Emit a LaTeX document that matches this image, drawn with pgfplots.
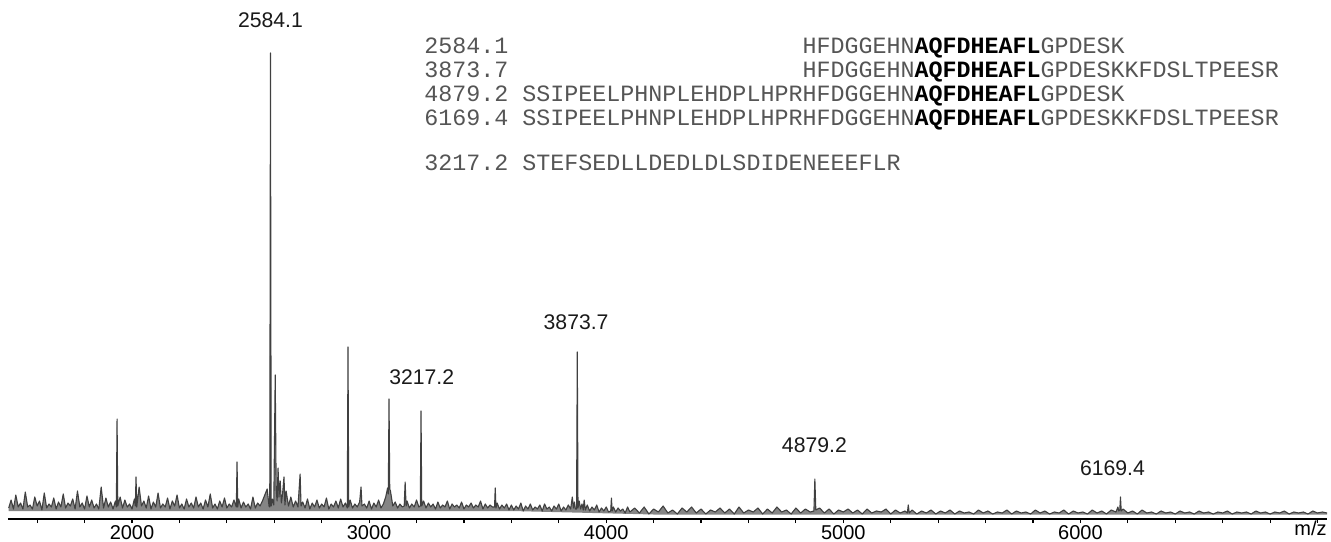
\documentclass[border=0pt]{standalone}
\usepackage{pgfplots}
\pgfplotsset{compat=1.18}
\usepgfplotslibrary{fillbetween}
\usepackage{pgfplotstable}
\usepackage{fontspec}
\setmainfont{Liberation Sans}
\newfontfamily\seqfont{Liberation Mono}
\definecolor{spec}{HTML}{404040}
\definecolor{band}{HTML}{858585}
\definecolor{seqgray}{HTML}{555555}
\definecolor{lbl}{HTML}{1A1A1A}

\pgfplotstableread{
x y
1480 11
1490 19
1500 10
1510 24
1520 12
1530 16
1540 10
1550 27
1560 12
1570 14
1580 10
1590 22
1600 13
1610 18
1620 9
1630 26
1640 11
1650 15
1660 12
1670 21
1680 10
1690 17
1700 12
1710 25
1720 11
1730 16
1740 13
1750 20
1760 10
1770 28
1780 12
1790 16
1800 10
1810 23
1820 12
1830 19
1840 11
1850 15
1860 10
1870 32
1880 11
1890 21
1900 12
1910 17
1920 10
1930 18
1934 12
1937 100
1940 13
1950 22
1960 11
1970 19
1980 12
1990 15
2000 10
2010 20
2014 13
2017 42
2020 12
2030 32
2040 13
2050 18
2060 11
2070 23
2080 10
2090 17
2100 12
2110 26
2120 11
2130 15
2140 12
2150 21
2160 10
2170 18
2180 13
2190 24
2200 11
2210 15
2220 10
2230 20
2240 12
2250 16
2260 11
2270 22
2280 12
2290 16
2300 10
2310 19
2320 12
2330 25
2340 11
2350 15
2360 10
2370 18
2380 12
2390 21
2400 11
2410 15
2420 12
2430 19
2440 12
2443 57
2446 12
2450 20
2460 11
2470 17
2480 12
2490 15
2500 10
2510 22
2520 11
2530 16
2540 13
2550 18
2560 24
2570 30
2578 13
2581 12
2584 466
2587 13
2592 20
2598 14
2604 144
2608 30
2612 18
2616 51
2620 22
2625 38
2630 16
2635 25
2641 42
2645 14
2650 28
2660 13
2670 22
2680 12
2690 18
2700 12
2709 45
2713 13
2720 17
2730 11
2740 20
2750 10
2760 16
2770 12
2780 19
2790 11
2800 15
2810 12
2820 21
2830 10
2840 15
2850 12
2860 18
2870 11
2880 20
2890 12
2900 16
2908 11
2911 172
2914 12
2920 19
2930 11
2940 15
2950 12
2960 17
2966 32
2970 13
2980 15
2990 11
3000 18
3010 10
3020 16
3030 12
3040 19
3050 11
3060 15
3070 22
3078 31
3081 25
3084 120
3087 30
3090 28
3100 13
3110 17
3120 11
3130 15
3140 12
3148 13
3152 37
3156 13
3160 18
3170 11
3180 15
3190 12
3200 19
3210 12
3216 13
3219 108
3222 13
3230 18
3240 11
3250 16
3260 12
3270 15
3280 10
3290 17
3300 11
3310 14
3320 12
3330 18
3340 10
3350 15
3360 12
3370 14
3380 11
3390 17
3400 10
3410 14
3420 12
3430 16
3440 11
3450 14
3460 12
3470 18
3480 10
3490 15
3500 11
3510 14
3520 12
3529 12
3532 31
3535 11
3540 16
3550 10
3560 14
3570 11
3580 15
3590 9
3600 14
3610 9
3620 13
3630 10
3640 16
3650 8
3660 13
3670 10
3680 15
3690 9
3700 12
3710 10
3720 14
3730 8
3740 15
3750 10
3760 12
3770 8
3780 13
3790 10
3800 15
3810 8
3820 12
3830 9
3840 14
3850 10
3857 22
3862 11
3866 17
3870 10
3875 10
3878 167
3881 11
3886 18
3892 10
3898 15
3903 9
3907 19
3912 9
3920 14
3930 8
3940 12
3950 9
3960 14
3970 7
3980 11
3990 8
4000 12
4010 7
4019 8
4022 21
4025 8
4030 12
4040 7
4050 11
4060 8
4070 10
4080 6
4090 12
4100 7
4120 11
4140 6
4160 12
4180 5
4200 10
4220 7
4240 13
4260 6
4280 9
4300 5
4320 11
4340 7
4360 12
4380 6
4400 10
4420 5
4440 9
4460 7
4480 11
4500 6
4520 10
4540 5
4560 12
4580 6
4600 9
4620 7
4640 11
4660 5
4680 10
4700 6
4720 12
4740 7
4760 9
4780 5
4800 11
4820 6
4840 10
4860 7
4876 8
4880 40
4884 9
4900 11
4920 6
4940 10
4960 5
4980 9
5000 7
5020 10
5040 6
5060 9
5080 5
5100 10
5120 6
5140 8
5160 7
5180 10
5200 5
5220 9
5240 6
5260 8
5270 6
5274 14
5278 6
5290 9
5310 5
5330 8
5350 6
5370 9
5390 5
5410 8
5430 6
5450 9
5470 5
5490 8
5510 6
5530 7
5550 5
5570 9
5590 6
5610 8
5630 5
5650 7
5670 6
5690 9
5710 5
5730 8
5750 6
5770 7
5790 5
5810 9
5830 6
5850 8
5870 5
5890 7
5910 6
5930 9
5950 5
5970 8
5990 6
6010 7
6030 5
6050 9
6070 6
6090 8
6110 5
6130 9
6150 7
6158 12
6162 8
6166 9
6169 22
6172 8
6180 10
6200 6
6220 8
6240 5
6260 9
6280 6
6300 7
6320 5
6340 8
6360 6
6380 7
6400 5
6420 8
6440 6
6460 7
6480 5
6500 8
6520 6
6540 7
6560 5
6580 7
6600 6
6620 8
6640 5
6660 7
6680 6
6700 7
6720 5
6740 8
6760 6
6780 7
6800 5
6820 7
6840 6
6860 8
6880 5
6900 7
6920 6
6940 7
6960 5
6980 8
7000 6
7020 7
7040 6
}\spectrum

\begin{document}
\begin{tikzpicture}
\begin{axis}[
  scale only axis,
  width=659.5pt, height=233pt,
  xmin=1477, xmax=7040, ymin=0, ymax=466,
  axis x line*=bottom,
  axis y line=none,
  axis line style={line width=0.8pt, black},
  xtick={2000,3000,4000,5000,6000},
  minor xtick={1600,1800,2200,2400,2600,2800,3200,3400,3600,3800,4200,4400,4600,4800,5200,5400,5600,5800,6200,6400,6600,6800,7000},
  tick align=outside,
  major tick length=2pt, minor tick length=2pt,
  every tick/.style={black, line width=0.6pt},
  xticklabel style={font=\fontsize{10}{12}\selectfont, text=black, anchor=base, yshift=-8.3pt},
  /pgf/number format/1000 sep={},
  /pgf/number format/assume math mode=true,
  clip=false,
]
\addplot[name path=spec, draw=none] table[x=x, y=y] {\spectrum};
\addplot[name path=base, draw=none] coordinates {(1480,8) (3600,8) (4200,4.5) (7040,4.5)};
\addplot[band, draw=none] fill between[of=spec and base];
\addplot[color=spec, line width=0.55pt, line join=round, mark=none] table[x=x, y=y] {\spectrum};

\begin{scope}[every node/.style={font=\fontsize{10.6}{12}\selectfont, text=lbl, inner sep=0pt}]
\node at (axis cs:2584,499) {2584.1};
\node at (axis cs:3222,142) {3217.2};
\node at (axis cs:3873,197) {3873.7};
\node at (axis cs:4878,74) {4879.2};
\node at (axis cs:6135,51) {6169.4};
\end{scope}
\node[anchor=base east, inner sep=0pt, font=\fontsize{10}{12}\selectfont] at (rel axis cs:1,0) [yshift=-8.3pt] {m/z};
\end{axis}

\begin{scope}[every node/.style={anchor=base west, inner sep=0pt, text=seqgray, font=\seqfont\fontsize{11.67}{14}\selectfont}]
\node at (208pt,232.5pt) {2584.1\phantom{XXXXXXXXXXXXXXXXXXXXX}HFDGGEHN\textcolor{black}{\bfseries AQFDHEAFL}GPDESK};
\node at (208pt,220.5pt) {3873.7\phantom{XXXXXXXXXXXXXXXXXXXXX}HFDGGEHN\textcolor{black}{\bfseries AQFDHEAFL}GPDESKKFDSLTPEESR};
\node at (208pt,208.5pt) {4879.2\phantom{X}SSIPEELPHNPLEHDPLHPRHFDGGEHN\textcolor{black}{\bfseries AQFDHEAFL}GPDESK};
\node at (208pt,196.5pt) {6169.4\phantom{X}SSIPEELPHNPLEHDPLHPRHFDGGEHN\textcolor{black}{\bfseries AQFDHEAFL}GPDESKKFDSLTPEESR};
\node at (208pt,174.5pt) {3217.2\phantom{X}STEFSEDLLDEDLDLSDIDENEEEFLR};
\end{scope}

\pgfresetboundingbox
\path (-4pt,-11pt) rectangle (661.5pt,259.5pt);
\end{tikzpicture}
\end{document}
